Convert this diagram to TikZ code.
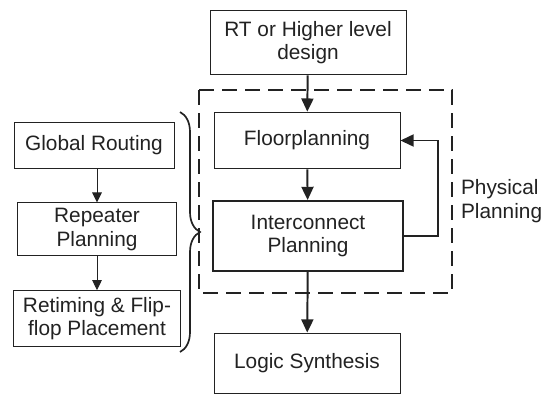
\documentclass[tikz,border=0pt]{standalone}
\usepackage{fontspec}
\setmainfont{Liberation Sans}
\usepackage{tikz}
\usetikzlibrary{arrows.meta, positioning}
\usetikzlibrary{decorations.pathreplacing}
\definecolor{inkgray}{HTML}{222222}

\begin{document}
\begin{tikzpicture}[x=0.025cm, y=-0.025cm, font=\fontsize{14.8}{16.7}\selectfont,
        every node/.style={draw=inkgray, align=center, inner sep=2pt, text=inkgray},
        flowbox/.style={line width=0.6pt},
        mainarrow/.style={draw=inkgray, line width=1.4pt, -{Triangle[length=0.33cm, width=0.3cm]}},
        subarrow/.style={draw=inkgray, line width=0.7pt, -{Triangle[length=0.25cm, width=0.24cm]}}]
        \useasboundingbox (0,0) rectangle (544,394);

        % main flow
        \node[flowbox, minimum width=4.9cm, minimum height=1.62cm] (rt) at (308,42.5) {RT or Higher level\\design};
        \node[flowbox, minimum width=4.65cm, minimum height=1.42cm] (floor) at (307,140.5) {Floorplanning};
        \node[line width=1.4pt, minimum width=4.75cm, minimum height=1.75cm] (inter) at (308,236) {Interconnect\\Planning};
        \node[flowbox, minimum width=4.65cm, minimum height=1.5cm] (logic) at (307,363) {Logic Synthesis};

        % physical planning region
        \draw[inkgray, line width=1.4pt, dash pattern=on 0.375cm off 0.2cm] (199,90) rectangle (452,293);
        \node[draw=none, align=left, anchor=west] (phys) at (458,201) {Physical\\Planning};

        % interconnect planning steps
        \node[flowbox, minimum width=4cm, minimum height=1.15cm] (global) at (94,145) {Global Routing};
        \node[flowbox, below=0.85cm of global.south, anchor=north, xshift=0.075cm, minimum width=3.98cm, minimum height=1.32cm] (repeater) {Repeater\\Planning};
        \node[flowbox, below=0.85cm of repeater.south, anchor=north, minimum width=4.18cm, minimum height=1.4cm] (retime) {Retiming \& Flip-\\flop Placement};

        \draw[mainarrow] (rt) -- (floor);
        \draw[mainarrow] (floor) -- (inter);
        \draw[mainarrow] (inter) -- (logic);
        \draw[mainarrow] (inter.east) -- ++(34,0) |- (floor.east);

        \draw[subarrow] (global.south -| repeater) -- (repeater.north);
        \draw[subarrow] (repeater) -- (retime);

        \coordinate (bracetop) at (180,112);
        \coordinate (bracebot) at (180,352);
        \draw[inkgray, line width=1.2pt, decorate, decoration={brace, amplitude=0.5cm}] (bracetop) -- (bracebot);
    \end{tikzpicture}
\end{document}
